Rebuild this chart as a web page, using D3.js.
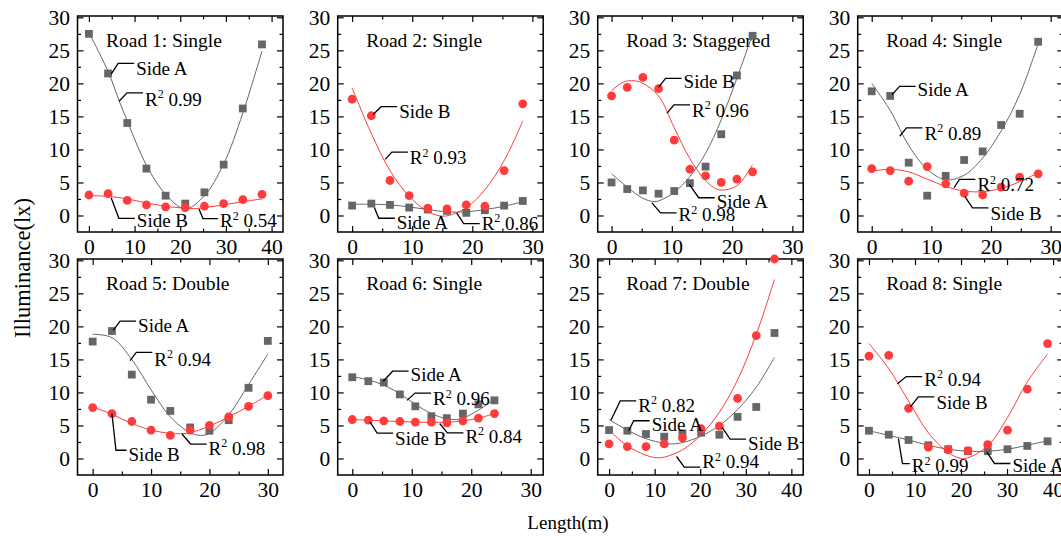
<!DOCTYPE html>
<html>
<head>
<meta charset="utf-8">
<script src="https://cdn.jsdelivr.net/npm/d3@7"></script>
<style>
  body { margin: 0; background: #fff; }
  svg { font-family: "Liberation Serif", "Times New Roman", serif; }
</style>
</head>
<body>
<div id="chart"></div>
<script>
// panel titles
var titles = ["Road 1: Single", "Road 2: Single", "Road 3: Staggered", "Road 4: Single",
              "Road 5: Double", "Road 6: Single", "Road 7: Double", "Road 8: Single"];

// measuring positions (m) for each road
var lengths = [
  [0, 4.2, 8.4, 12.6, 16.8, 21.1, 25.3, 29.5, 33.7, 37.9],
  [0, 3.2, 6.3, 9.5, 12.6, 15.8, 19, 22.1, 25.3, 28.4],
  [0, 2.6, 5.2, 7.8, 10.4, 13, 15.6, 18.2, 20.8, 23.4],
  [0, 3.1, 6.2, 9.3, 12.4, 15.5, 18.6, 21.7, 24.8, 27.9],
  [0, 3.3, 6.7, 10, 13.3, 16.7, 20, 23.3, 26.7, 30],
  [0, 2.7, 5.3, 8, 10.6, 13.3, 15.9, 18.6, 21.2, 23.9],
  [0, 4, 8.1, 12.1, 16.1, 20.2, 24.2, 28.2, 32.3, 36.3],
  [0, 4.3, 8.6, 12.9, 17.2, 21.5, 25.8, 30.1, 34.4, 38.8]
];

// illuminance (lx), side A (squares)
var sideA = [
  [27.5, 21.5, 14.0, 7.1, 3.0, 1.8, 3.5, 7.7, 16.2, 25.9],
  [1.5, 1.8, 1.6, 1.2, 0.9, 0.7, 0.4, 0.8, 1.5, 2.2],
  [5.0, 4.0, 3.8, 3.3, 3.7, 4.9, 7.4, 12.3, 21.2, 27.2],
  [18.8, 18.1, 8.0, 3.0, 6.0, 8.4, 9.7, 13.7, 15.4, 26.3],
  [17.7, 19.3, 12.7, 8.9, 7.2, 4.7, 4.2, 5.8, 10.7, 17.8],
  [12.3, 11.7, 11.5, 9.7, 7.9, 6.4, 6.1, 6.8, 8.2, 8.8],
  [4.3, 4.2, 3.7, 3.3, 3.8, 3.9, 3.6, 6.3, 7.8, 19.0],
  [4.2, 3.6, 2.8, 2.0, 1.4, 1.1, 1.1, 1.4, 1.9, 2.6]
];

// illuminance (lx), side B (circles)
var sideB = [
  [3.1, 3.3, 2.3, 1.6, 1.3, 1.2, 1.4, 1.8, 2.4, 3.2],
  [17.6, 15.1, 5.3, 3.0, 1.1, 1.0, 1.6, 1.4, 6.8, 16.9],
  [18.1, 19.4, 20.9, 19.2, 11.4, 7.0, 6.0, 5.0, 5.5, 6.6],
  [7.1, 6.8, 5.2, 7.4, 4.8, 3.4, 3.1, 4.3, 5.8, 6.3],
  [7.7, 6.8, 5.6, 4.3, 3.5, 4.3, 5.0, 6.3, 7.9, 9.5],
  [5.9, 5.8, 5.7, 5.6, 5.5, 5.5, 5.4, 5.7, 6.1, 6.8],
  [2.2, 1.8, 1.8, 2.2, 3.1, 4.5, 4.9, 9.1, 18.6, 30.2],
  [15.5, 15.6, 7.6, 1.7, 1.3, 1.2, 2.1, 4.3, 10.5, 17.4]
];

// fitted curves, [length, lx]
var fitA = [
  [[0,27.7],[4.2,21.8],[6.6,17.4],[8.4,14.3],[12.6,7.6],[16.8,3.2],[21.1,1.0],[25.3,3.0],[29.5,7.8],[33.7,15.5],[37.9,24.9]],
  [[0,1.7],[3.2,1.7],[6.3,1.6],[9.5,1.3],[12.6,0.9],[15.8,0.55],[19,0.55],[22.1,0.9],[25.3,1.4],[28.4,2.1]],
  [[0,6.3],[2.6,4.3],[5.2,2.6],[7,2.1],[7.8,2.2],[10.4,3.5],[13,5.9],[15.6,9.4],[18.2,14.5],[20.8,20.8],[23.4,27.4]],
  [[0,20],[3.1,15.9],[6.2,10.6],[9.3,7.0],[12.4,5.4],[15.5,6.1],[18.6,8.7],[21.7,12.8],[24.8,18.3],[27.9,26.0]],
  [[0,18.8],[3.3,18.3],[6.7,15.0],[10,10.4],[13.3,6.3],[16.7,3.9],[18.5,3.5],[20,3.8],[23.3,6.6],[26.7,11.2],[30,15.8]],
  [[0,12.4],[2.7,11.9],[5.3,11.1],[8,9.8],[10.6,8.2],[13.3,6.8],[15.9,6.0],[17.5,5.9],[18.6,6.1],[21.2,7.3],[23.9,9.0]],
  [[0,5.9],[4,4.3],[8.1,3.0],[12.1,2.3],[13.5,2.2],[16.1,2.4],[20.2,3.4],[24.2,5.0],[28.2,7.4],[32.3,10.8],[36.3,15.3]],
  [[0,4.2],[4.3,3.5],[8.6,2.8],[12.9,2.0],[17.2,1.4],[21.5,1.1],[25.8,1.1],[30.1,1.4],[34.4,2.0],[38.8,2.7]]
];
var fitB = [
  [[0,3.0],[4.2,2.9],[8.4,2.5],[12.6,1.9],[16.8,1.4],[21.1,1.1],[23.5,1.05],[25.3,1.2],[29.5,1.6],[33.7,2.1],[37.9,2.5]],
  [[0,19.3],[3.2,12.4],[6.3,6.8],[9.5,2.9],[12.6,0.6],[15.3,-0.1],[19,1.2],[22.1,3.9],[25.3,8.3],[28.4,14.3]],
  [[0,18.9],[2,20.2],[3.7,20.4],[5.2,20.0],[7.8,18.1],[10.4,13.3],[13,8.6],[15.6,5.3],[17.8,3.9],[20.8,4.5],[23.4,7.7]],
  [[0,6.7],[3.1,7.0],[6.2,6.6],[9.3,5.5],[12.4,4.4],[15.5,3.7],[18.6,3.6],[21.7,4.1],[24.8,5.1],[27.9,6.5]],
  [[0,7.8],[3.3,6.7],[6.7,5.3],[10,4.3],[13.3,3.8],[15,3.75],[16.7,3.9],[20,4.9],[23.3,6.3],[26.7,7.9],[30,9.6]],
  [[0,5.9],[5.3,5.7],[10.6,5.5],[15.9,5.5],[18.6,5.7],[21.2,6.1],[23.9,6.8]],
  [[0,4.3],[4,1.9],[8.1,0.5],[10.5,0.1],[12.1,0.2],[16.1,1.3],[20.2,3.6],[24.2,7.0],[28.2,11.9],[32.3,18.8],[36.3,27.1]],
  [[0,17.4],[4.3,13.6],[8.6,8.7],[12.9,3.9],[17.2,0.9],[20,0],[21.5,0.1],[25.8,1.9],[30.1,6.2],[34.4,11.6],[38.8,15.8]]
];

// labels: anchor in data units, text offset (px) from anchor, leader level (px)
var notes = [
  {p:0, ax:4.87, ay:21.4, dx:25, dy:1, ly:-10.7, t:"Side A"},
  {p:0, ax:6.6, ay:17.3, dx:26, dy:4.3, ly:-8.4, t:"R2 0.99"},
  {p:0, ax:4.87, ay:2.7, dx:25.7, dy:29.7, ly:20.7, t:"Side B"},
  {p:0, ax:24.1, ay:1.0, dx:21, dy:18.4, ly:9.7, t:"R2 0.54"},
  {p:1, ax:3.5, ay:15.3, dx:26, dy:3.3, ly:-7.7, t:"Side B"},
  {p:1, ax:5.5, ay:8.5, dx:24.7, dy:5, ly:-7.3, t:"R2 0.93"},
  {p:1, ax:3.7, ay:1.2, dx:22.4, dy:21.7, ly:10.7, t:"Side A"},
  {p:1, ax:17.4, ay:0.4, dx:25, dy:16.7, ly:10.7, t:"R2 0.86"},
  {p:2, ax:7.8, ay:19.4, dx:25, dy:1, ly:-9, t:"Side B"},
  {p:2, ax:9.2, ay:15.5, dx:25, dy:3.4, ly:-8.3, t:"R2 0.96"},
  {p:2, ax:12.9, ay:4.7, dx:27.4, dy:23.3, ly:13.3, t:"Side A"},
  {p:2, ax:6.7, ay:1.9, dx:26.6, dy:18.4, ly:10, t:"R2 0.98"},
  {p:3, ax:3.4, ay:18.3, dx:25.6, dy:1.7, ly:-8.3, t:"Side A"},
  {p:3, ax:4.7, ay:12.0, dx:24.7, dy:3.3, ly:-8.4, t:"R2 0.89"},
  {p:3, ax:13.8, ay:4.2, dx:23.4, dy:3.4, ly:-8.3, t:"R2 0.72"},
  {p:3, ax:15.6, ay:2.9, dx:25.7, dy:23.3, ly:11.6, t:"Side B"},
  {p:4, ax:3.5, ay:19.4, dx:25, dy:1.7, ly:-9.3, t:"Side A"},
  {p:4, ax:6.4, ay:14.8, dx:24.3, dy:5, ly:-8.3, t:"R2 0.94"},
  {p:4, ax:3.3, ay:6.8, dx:16.6, dy:47.4, ly:36.7, t:"Side B"},
  {p:4, ax:15.3, ay:3.7, dx:26.6, dy:20.7, ly:10, t:"R2 0.98"},
  {p:5, ax:5.2, ay:11.7, dx:27.4, dy:0, ly:-10, t:"Side A"},
  {p:5, ax:9.2, ay:8.8, dx:26, dy:5, ly:-7.3, t:"R2 0.96"},
  {p:5, ax:3.0, ay:5.5, dx:25, dy:23.3, ly:11, t:"Side B"},
  {p:5, ax:14.7, ay:5.3, dx:25.7, dy:19.4, ly:9.4, t:"R2 0.84"},
  {p:6, ax:0.4, ay:5.8, dx:27.3, dy:-8.3, ly:-19.3, t:"R2 0.82"},
  {p:6, ax:4.3, ay:4.2, dx:23, dy:0, ly:-10, t:"Side A"},
  {p:6, ax:24.8, ay:4.7, dx:26, dy:22.6, ly:11.6, t:"Side B"},
  {p:6, ax:14.8, ay:0.3, dx:25.7, dy:11.7, ly:10.7, t:"R2 0.94"},
  {p:7, ax:6.2, ay:11.3, dx:26.7, dy:1.7, ly:-7.3, t:"R2 0.94"},
  {p:7, ax:9.0, ay:7.8, dx:26, dy:1.6, ly:-10, t:"Side B"},
  {p:7, ax:6.4, ay:3.0, dx:13.4, dy:33.4, ly:25, t:"R2 0.99"},
  {p:7, ax:25.6, ay:1.0, dx:25.6, dy:20, ly:11.6, t:"Side A"}
];

var W = 1061, H = 540;
var colLeft = [77.5, 337.7, 597.7, 857.7],
    rowTop = [16, 259],
    pw = 205.5, ph = 216;
var xDomains = [[-2.5, 42.5], [-2.4, 31.8], [-2.3, 31.8], [-2.35, 32.1],
                [-2.6, 32.6], [-2.45, 32.1], [-2.5, 42.6], [-2.45, 42.2]];
var xMax = [40, 30, 30, 30, 30, 30, 40, 40];
var grayCol = "#666666", redCol = "#ff3b3b";

var svg = d3.select("#chart")
  .append("svg")
    .attr("width", W)
    .attr("height", H);

titles.forEach(function(title, i) {
  var col = i % 4, row = Math.floor(i / 4);
  var g = svg.append("g")
    .attr("transform", "translate(" + colLeft[col] + "," + rowTop[row] + ")");

  var x = d3.scaleLinear().domain(xDomains[i]).range([0, pw]);
  var y = d3.scaleLinear().domain([-2.5, 30.2]).range([ph, 0]);

  var xMajor = d3.range(0, xMax[i] + 1, 10),
      xMinor = d3.range(5, xMax[i], 10),
      yMajor = d3.range(0, 31, 5),
      yMinor = d3.range(2.5, 30, 5);

  function tickAxis(axisFn, scale, vals, size, labels, pad) {
    var a = axisFn(scale).tickValues(vals).tickSizeInner(-size).tickSizeOuter(0).tickPadding(pad || 0);
    if (!labels) a.tickFormat("");
    return a;
  }

  // bottom
  g.append("g").attr("class", "axis").attr("transform", "translate(0," + ph + ")")
    .call(tickAxis(d3.axisBottom, x, xMajor, 6, true, 7));
  g.append("g").attr("class", "axis").attr("transform", "translate(0," + ph + ")")
    .call(tickAxis(d3.axisBottom, x, xMinor, 3.5, false));
  // top
  g.append("g").attr("class", "axis")
    .call(tickAxis(d3.axisTop, x, xMajor, 6, false));
  g.append("g").attr("class", "axis")
    .call(tickAxis(d3.axisTop, x, xMinor, 3.5, false));
  // left
  g.append("g").attr("class", "axis")
    .call(tickAxis(d3.axisLeft, y, yMajor, 6, true, 7.5));
  g.append("g").attr("class", "axis")
    .call(tickAxis(d3.axisLeft, y, yMinor, 3.5, false));
  // right
  g.append("g").attr("class", "axis").attr("transform", "translate(" + pw + ",0)")
    .call(tickAxis(d3.axisRight, y, yMajor, 6, false));
  g.append("g").attr("class", "axis").attr("transform", "translate(" + pw + ",0)")
    .call(tickAxis(d3.axisRight, y, yMinor, 3.5, false));

  g.selectAll(".axis .domain").remove();
  g.selectAll(".axis line").attr("stroke", "#000").attr("stroke-width", 1.2);
  g.selectAll(".axis text")
    .attr("font-family", "Liberation Serif, Times New Roman, serif")
    .attr("font-size", 21.5)
    .attr("fill", "#000");

  g.append("rect")
    .attr("width", pw).attr("height", ph)
    .attr("fill", "none").attr("stroke", "#000").attr("stroke-width", 1.5);

  g.append("text")
    .attr("x", 28.5).attr("y", 30.5)
    .attr("font-size", 19.5)
    .text(title);

  var line = d3.line()
    .x(function(d) { return x(d[0]); })
    .y(function(d) { return y(d[1]); })
    .curve(d3.curveCatmullRom.alpha(0.5));

  var ptsA = lengths[i].map(function(v, k) { return [v, sideA[i][k]]; });
  var ptsB = lengths[i].map(function(v, k) { return [v, sideB[i][k]]; });

  g.append("path").attr("d", line(fitA[i]))
    .attr("fill", "none").attr("stroke", grayCol).attr("stroke-width", 1);

  g.selectAll("rect.sq")
    .data(ptsA)
    .enter()
    .append("rect")
      .attr("class", "sq")
      .attr("x", function(d) { return x(d[0]) - 3.9; })
      .attr("y", function(d) { return y(d[1]) - 3.9; })
      .attr("width", 7.8).attr("height", 7.8)
      .attr("fill", grayCol);

  g.append("path").attr("d", line(fitB[i]))
    .attr("fill", "none").attr("stroke", redCol).attr("stroke-width", 1);

  g.selectAll("circle")
    .data(ptsB)
    .enter()
    .append("circle")
      .attr("cx", function(d) { return x(d[0]); })
      .attr("cy", function(d) { return y(d[1]); })
      .attr("r", 4.4)
      .attr("fill", redCol);

  // labels with leader lines
  notes.filter(function(n) { return n.p === i; }).forEach(function(n) {
    var ax = x(n.ax), ay = y(n.ay);
    var tx = ax + n.dx, lvl = ay + n.ly;
    var cx = Math.max(ax + 4, tx - 18);
    g.append("path")
      .attr("d", "M" + ax + "," + ay + "L" + cx + "," + lvl + "L" + (tx - 2) + "," + lvl)
      .attr("fill", "none").attr("stroke", "#000").attr("stroke-width", 1.3);
    var t = g.append("text").attr("x", tx).attr("y", ay + n.dy).attr("font-size", 19);
    if (n.t.indexOf("R2 ") === 0) {
      t.append("tspan").text("R");
      t.append("tspan").attr("dy", -7.5).attr("font-size", 12).text("2");
      t.append("tspan").attr("dy", 7.5).text(" " + n.t.slice(3));
    } else {
      t.text(n.t);
    }
  });
});

svg.append("text")
  .attr("transform", "translate(29.5,268) rotate(-90)")
  .attr("text-anchor", "middle")
  .attr("font-size", 22.5)
  .text("Illuminance(lx)");

svg.append("text")
  .attr("x", 568).attr("y", 529)
  .attr("text-anchor", "middle")
  .attr("font-size", 19)
  .text("Length(m)");
</script>
</body>
</html>
